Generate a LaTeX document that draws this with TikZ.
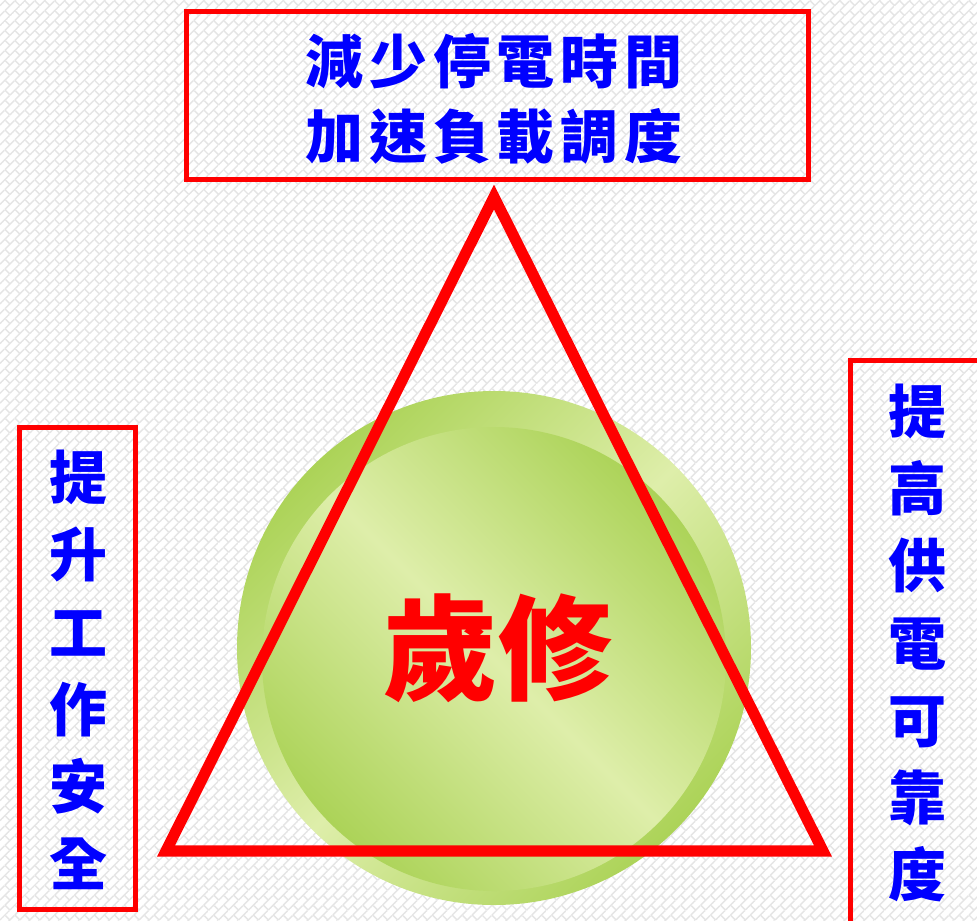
\documentclass[tikz,border=0pt]{standalone}
\usepackage{fontspec}
\newfontfamily\cjk{Noto Sans CJK TC}
\usetikzlibrary{patterns.meta}
\definecolor{boxred}{RGB}{255,0,0}
\definecolor{txtblue}{RGB}{0,0,255}
\definecolor{gdark}{RGB}{172,211,88}
\definecolor{glight}{RGB}{222,238,170}
\tikzdeclarepattern{
  name=bricks,
  type=uncolored,
  bottom left={(-0.5pt,-0.5pt)},
  top right={(7.5pt,7.5pt)},
  tile size={(8pt,8pt)},
  tile transformation={rotate=45},
  code={
    \pgfsetlinewidth{0.8pt}
    \pgfpathmoveto{\pgfpoint{0pt}{0pt}}\pgfpathlineto{\pgfpoint{8pt}{0pt}}
    \pgfpathmoveto{\pgfpoint{0pt}{4pt}}\pgfpathlineto{\pgfpoint{8pt}{4pt}}
    \pgfpathmoveto{\pgfpoint{0pt}{0pt}}\pgfpathlineto{\pgfpoint{0pt}{4pt}}
    \pgfpathmoveto{\pgfpoint{4pt}{4pt}}\pgfpathlineto{\pgfpoint{4pt}{8pt}}
    \pgfusepath{stroke}
  }
}
\tikzset{
  framebox/.style={draw=boxred, line width=2.85pt, inner sep=0pt},
  bluetext/.style={text=txtblue, inner sep=0pt, align=center, font=\cjk\bfseries\fontsize{33}{43.9}\selectfont},
  toptext/.style={text=txtblue, inner sep=0pt, align=center, font=\cjk\bfseries\fontsize{33}{42.7}\selectfont\addfontfeature{LetterSpace=10}},
  tri/.style={draw=boxred, line width=6.3pt, miter limit=10},
}
\begin{document}
\begin{tikzpicture}[x=0.02cm,y=-0.02cm]
\useasboundingbox (0,0) rectangle (977,920);
\clip (0,0) rectangle (977,920);
\fill[white] (0,0) rectangle (977,920);
\fill[pattern=bricks, pattern color=black!10] (0,0) rectangle (977,920);
% sphere
\shade[top color=gdark, bottom color=gdark, middle color=glight, shading angle=45] (494,648) circle [radius=257];
\shade[top color=gdark, bottom color=gdark, middle color=glight, shading angle=-45] (494,659) circle [radius=232];
% boxes
\node[framebox, minimum width=12.44cm, minimum height=3.36cm] (topbox) at (497.5,95.5) {};
\node[framebox, minimum width=2.32cm, minimum height=9.64cm] (leftbox) at (77.5,668.5) {};
\node[framebox, minimum width=2.69cm, minimum height=11.49cm] (rightbox) at (917.75,647.75) {};
% texts
\node[toptext] (toplabel) at (494,99) {減少停電時間\\加速負載調度};
\node[bluetext] (leftlabel) at (78,670) {提\\升\\工\\作\\安\\全};
\node[bluetext] (rightlabel) at (917,643) {提\\高\\供\\電\\可\\靠\\度};
% triangle
\coordinate (apex) at (494,197);
\coordinate (bl) at (166,851);
\coordinate (br) at (823,851);
\draw[tri] (apex) -- (bl) -- (br) -- cycle;
\node[text=boxred, inner sep=0pt, font=\cjk\bfseries\fontsize{65}{70}\selectfont] (center) at (498,648) {歲修};
\end{tikzpicture}
\end{document}
